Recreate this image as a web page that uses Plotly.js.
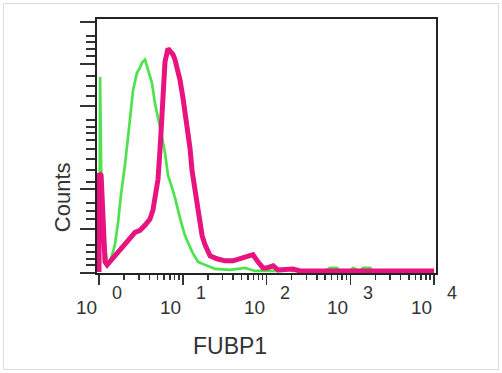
<!DOCTYPE html>
<html>
<head>
<meta charset="utf-8">
<script src="https://cdn.plot.ly/plotly-3.0.1.min.js"></script>
<style>
  html, body { margin: 0; padding: 0; background: #fff; }
  #wrap { position: relative; width: 502px; height: 373px; overflow: hidden; }
  #frame { position: absolute; left: 3px; top: 3px; width: 494px; height: 365px; border: 1px solid #dcdcdc; pointer-events: none; }
  #chart { position: absolute; left: 0; top: 0; width: 502px; height: 373px; }
</style>
</head>
<body>
<div id="wrap">
  <div id="chart"></div>
  <div id="frame"></div>
</div>
<script>
// Fluorescence intensity (FUBP1) and counts
const magentaX = [1.0,1.01,1.06,1.09,1.12,1.18,1.25,1.35,1.55,1.78,2.04,2.34,2.69,3.09,3.54,4.06,4.41,4.66,5.06,5.35,5.65,5.81,6.14,6.67,7.04,7.65,8.08,8.54,9.27,10.07,10.6,11.2,12.2,12.9,14.0,14.8,16.1,17.0,18.4,19.5,21.2,25.6,31.9,39.8,48.3,58.5,69.0,79.1,90.8,101,120,137,166,207,251,10000];
const magentaY = [1,98,96,67,54,11,8,11,18,23,28,34,40,42,47,53,62,72,92,121,160,185,208,221,219,215,210,203,190,172,160,145,123,101,82,69,50,37,28,23,17,14,12,12,14,16,18,11,5,5,7,3,3,4,2,2];

const greenX = [1.01,1.03,1.06,1.15,1.25,1.35,1.47,1.55,1.69,1.83,2.04,2.22,2.34,2.55,2.84,3.09,3.26,3.54,3.85,4.29,4.66,5.06,5.65,6.14,6.67,7.44,8.08,9.27,10.6,12.9,15.2,18.4,24.3,36.6,55.4,72.9,157,166,191,202,500,573,695,755,993,1079,1307,1420,1722,1870,10000];
const greenY = [1,193,103,32,11,11,21,28,50,77,106,131,151,180,197,202,207,210,200,187,167,154,134,118,96,84,74,54,37,21,11,8,4,3,5,2,2,4,4,2,2,5,5,2,2,5,2,5,5,2,2];

// Axis ticks
const tickExps = [0, 1, 2, 3, 4];
const tickBase = "10";
const minorMultipliers = [2, 3, 4, 5, 6, 7, 8, 9];
const yMajorTicks = [0, 43, 83, 164, 206, 247];
const yMinorTicks = [8, 14, 21, 28, 53, 61, 69, 90, 101, 112, 122, 131, 138, 144, 151, 174, 184, 194, 214, 220, 227, 233];

const xTitle = "FUBP1";
const yTitle = "Counts";

const xMajor = tickExps.map(e => Math.pow(10, e));
const xMinor = [];
tickExps.slice(0, -1).forEach(e => minorMultipliers.forEach(m => xMinor.push(m * Math.pow(10, e))));

const FONT = "Liberation Sans, Arial, sans-serif";
const TXT = "#333333";

const traces = [
  { x: greenX, y: greenY, type: "scatter", mode: "lines",
    line: { color: "#4ee24e", width: 2.7, shape: "linear" }, hoverinfo: "skip" },
  { x: magentaX, y: magentaY, type: "scatter", mode: "lines",
    line: { color: "#e8137f", width: 5, shape: "linear" }, hoverinfo: "skip" }
];

const annotations = [];
tickExps.forEach(e => {
  annotations.push({ x: e, y: -0.134, xref: "x", yref: "paper", text: tickBase,
    showarrow: false, xanchor: "right", yanchor: "middle", xshift: 0,
    font: { family: FONT, size: 19, color: TXT } });
  annotations.push({ x: e, y: -0.079, xref: "x", yref: "paper", text: String(e),
    showarrow: false, xanchor: "left", yanchor: "middle", xshift: 11,
    font: { family: FONT, size: 18, color: TXT } });
});
annotations.push({ x: -0.103, y: 0.299, xref: "paper", yref: "paper", text: yTitle,
  showarrow: false, textangle: -90, xanchor: "center", yanchor: "middle",
  font: { family: FONT, size: 22, color: TXT } });
annotations.push({ x: 0.392, y: -0.287, xref: "paper", yref: "paper", text: xTitle,
  showarrow: false, xanchor: "center", yanchor: "middle",
  font: { family: FONT, size: 23, color: TXT } });

const layout = {
  width: 502, height: 373,
  margin: { l: 97, r: 66, t: 19, b: 100, pad: 0 },
  paper_bgcolor: "rgba(0,0,0,0)", plot_bgcolor: "#ffffff",
  showlegend: false,
  xaxis: {
    type: "log", range: [-0.024, 4.024], showgrid: false, zeroline: false,
    showline: true, mirror: true, linecolor: "#222", linewidth: 2,
    tickmode: "array", tickvals: xMajor, showticklabels: false,
    ticks: "outside", ticklen: 10, tickwidth: 1.5, tickcolor: "#333",
    minor: { tickmode: "array", tickvals: xMinor, ticks: "outside", ticklen: 5, tickwidth: 1.5, tickcolor: "#333", showgrid: false }
  },
  yaxis: {
    range: [0, 250], showgrid: false, zeroline: false,
    showline: true, mirror: true, linecolor: "#222", linewidth: 2,
    tickmode: "array", tickvals: yMajorTicks, showticklabels: false,
    ticks: "outside", ticklen: 15, tickwidth: 2, tickcolor: "#333",
    minor: { tickmode: "array", tickvals: yMinorTicks, ticks: "outside", ticklen: 9, tickwidth: 2, tickcolor: "#333", showgrid: false }
  },
  annotations: annotations
};

Plotly.newPlot("chart", traces, layout, { staticPlot: true, displayModeBar: false });
</script>
</body>
</html>
